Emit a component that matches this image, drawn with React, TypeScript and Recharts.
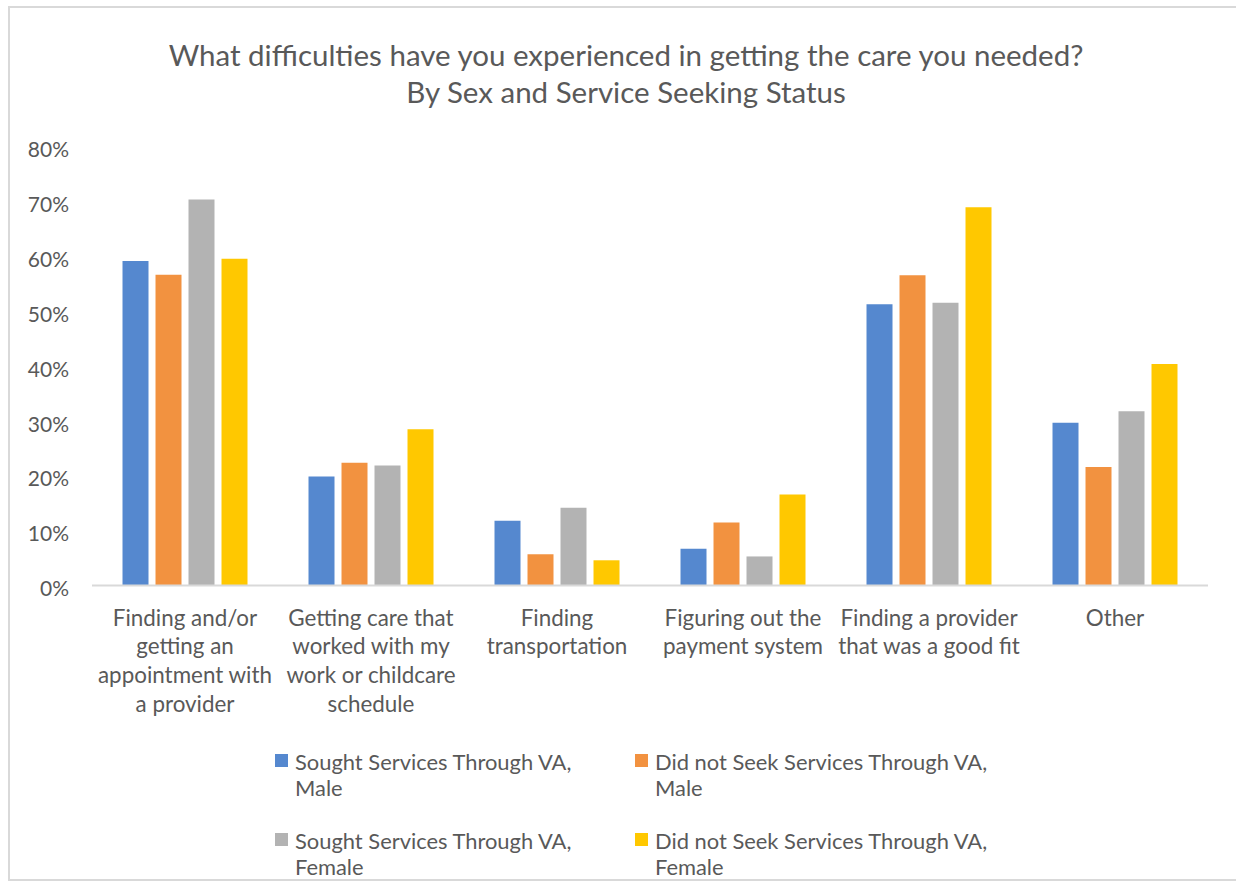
import React from "react";
import { BarChart, Bar, XAxis, YAxis } from "recharts";

const categories = [
  "Finding and/or getting an appointment with a provider",
  "Getting care that worked with my work or childcare schedule",
  "Finding transportation",
  "Figuring out the payment system",
  "Finding a provider that was a good fit",
  "Other",
];

const categoryLines = [
  ["Finding and/or", "getting an", "appointment with", "a provider"],
  ["Getting care that", "worked with my", "work or childcare", "schedule"],
  ["Finding", "transportation"],
  ["Figuring out the", "payment system"],
  ["Finding a provider", "that was a good fit"],
  ["Other"],
];

const soughtMale = [59.2, 19.9, 11.8, 6.7, 51.3, 29.7];
const notSoughtMale = [56.7, 22.4, 5.7, 11.5, 56.6, 21.6];
const soughtFemale = [70.4, 21.9, 14.2, 5.3, 51.6, 31.8];
const notSoughtFemale = [59.6, 28.5, 4.6, 16.6, 69.0, 40.4];

const seriesNames = [
  ["Sought Services Through VA,", "Male"],
  ["Did not Seek Services Through VA,", "Male"],
  ["Sought Services Through VA,", "Female"],
  ["Did not Seek Services Through VA,", "Female"],
];
const seriesColors = ["#5588cf", "#f29240", "#b3b3b3", "#ffc800"];

const yTicks = [0, 10, 20, 30, 40, 50, 60, 70, 80];

const data = categories.map((name, i) => ({
  name,
  s0: soughtMale[i],
  s1: notSoughtMale[i],
  s2: soughtFemale[i],
  s3: notSoughtFemale[i],
}));

const FONT = "Lato, sans-serif";
const TEXT = "#595959";

function CategoryTick(props: any) {
  const { x, y, index } = props;
  const lines = categoryLines[index] || [];
  return (
    <text x={x} y={y} textAnchor="middle" fill={TEXT} fontFamily={FONT} fontSize={22.4}>
      {lines.map((line, i) => (
        <tspan key={i} x={x} dy={i === 0 ? 40 : 28.7}>
          {line}
        </tspan>
      ))}
    </text>
  );
}

function PercentTick(props: any) {
  const { x, y, payload } = props;
  return (
    <text x={x} y={y + 3} dy="0.355em" textAnchor="end" fill={TEXT} fontFamily={FONT} fontSize={21}>
      {`${payload.value}%`}
    </text>
  );
}

const legendSpots = [
  { left: 275, top: 749 },
  { left: 635, top: 749 },
  { left: 275, top: 828 },
  { left: 635, top: 828 },
];

export default function App() {
  return (
    <div
      style={{
        position: "absolute",
        left: 0,
        top: 0,
        width: 1236,
        height: 882,
        overflow: "hidden",
        background: "#fff",
        fontFamily: FONT,
        color: TEXT,
      }}
    >
      <div
        style={{
          position: "absolute",
          left: 8,
          top: 6,
          width: 1250,
          height: 871,
          border: "2px solid #d9d9d9",
        }}
      />
      <div
        style={{
          position: "absolute",
          left: 0,
          top: 36,
          width: 1252,
          textAlign: "center",
          fontSize: 29.5,
          lineHeight: "37px",
        }}
      >
        <div>What difficulties have you experienced in getting the care you needed?</div>
        <div>By Sex and Service Seeking Status</div>
      </div>
      <div style={{ position: "absolute", left: 0, top: 0 }}>
        <BarChart
          width={1236}
          height={882}
          data={data}
          margin={{ top: 147, right: 28, bottom: 146.5, left: 0 }}
          barCategoryGap="16.4%"
          barGap={7}
        >
          <XAxis
            dataKey="name"
            axisLine={{ stroke: "#d9d9d9", strokeWidth: 2 }}
            tickLine={false}
            tickSize={0}
            tickMargin={0}
            height={150}
            interval={0}
            tick={<CategoryTick />}
          />
          <YAxis
            width={92}
            domain={[0, 80]}
            ticks={yTicks}
            axisLine={false}
            tickLine={false}
            tickSize={0}
            tickMargin={23}
            tick={<PercentTick />}
          />
          {["s0", "s1", "s2", "s3"].map((key, i) => (
            <Bar key={key} dataKey={key} fill={seriesColors[i]} isAnimationActive={false} />
          ))}
        </BarChart>
      </div>
      {seriesNames.map((lines, i) => (
        <div
          key={i}
          style={{
            position: "absolute",
            left: legendSpots[i].left,
            top: legendSpots[i].top,
            display: "flex",
            alignItems: "flex-start",
            fontSize: 21.9,
            lineHeight: "26px",
          }}
        >
          <span
            style={{
              display: "inline-block",
              width: 13,
              height: 13,
              marginTop: 5,
              marginRight: 7,
              background: seriesColors[i],
            }}
          />
          <div>
            <div>{lines[0]}</div>
            <div>{lines[1]}</div>
          </div>
        </div>
      ))}
    </div>
  );
}
